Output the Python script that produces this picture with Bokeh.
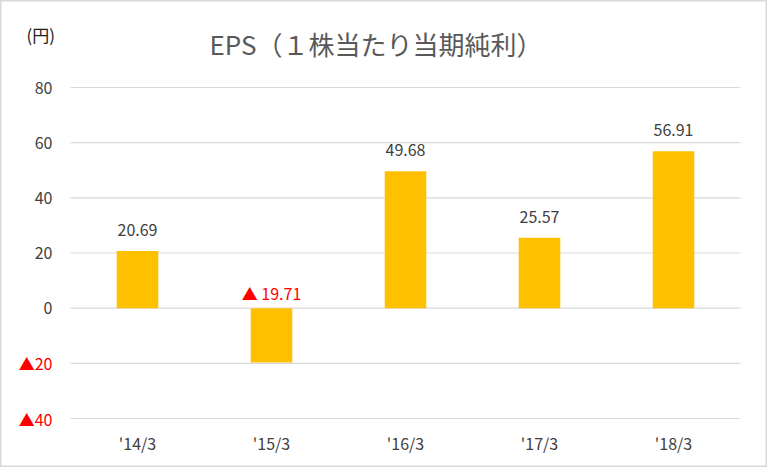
from bokeh.plotting import figure
from bokeh.models import Range1d
from bokeh.core.properties import value
from bokeh.embed import file_html
from bokeh.resources import INLINE

categories = ["'14/3", "'15/3", "'16/3", "'17/3", "'18/3"]
eps = [20.69, -19.71, 49.68, 25.57, 56.91]
y_ticks = [-40, -20, 0, 20, 40, 60, 80]
y_tick_labels = ["▲40", "▲20", "0", "20", "40", "60", "80"]
title_text = "EPS（１株当たり当期純利）"
unit_text = "(円)"

FONT = value("Noto Sans CJK JP")
GRAY = "#404040"
RED = "#FF0000"

n = len(categories)
xs = [i + 0.5 for i in range(n)]

W, H = 767, 467
L, R, T, B = 70, 740, 87, 418  # plot-area edges in pixels
PX_X = (R - L) / n
PX_Y = (B - T) / 120
x0 = -L / PX_X
x1 = n + (W - R) / PX_X
y1 = 80 + T / PX_Y
y0 = -40 - (H - B) / PX_Y

p = figure(width=W, height=H, output_backend="svg", toolbar_location=None,
           x_range=Range1d(x0, x1), y_range=Range1d(y0, y1),
           x_axis_location=None, y_axis_location=None,
           min_border=0, min_border_left=0, min_border_right=0,
           min_border_top=0, min_border_bottom=0)
p.outline_line_color = "#d9d9d9"
p.outline_line_width = 2
p.background_fill_color = "white"
p.border_fill_color = "white"
p.xgrid.visible = False
p.ygrid.visible = False

# gridlines
p.segment(x0=[0] * len(y_ticks), x1=[n] * len(y_ticks), y0=y_ticks, y1=y_ticks,
          line_color="#d9d9d9", line_width=1.2)

p.vbar(x=xs, top=eps, bottom=0, width=0.31, fill_color="#FFC000", line_color=None)

# y tick labels
p.text(x=[-18 / PX_X] * len(y_ticks), y=y_ticks, text=y_tick_labels,
       text_align="right", text_baseline="middle", text_font=FONT,
       text_font_size="16px",
       text_color=[RED if t < 0 else GRAY for t in y_ticks])

# x tick labels
p.text(x=xs, y=[-40 - 24 / PX_Y] * n, text=categories, text_align="center",
       text_baseline="middle", text_font=FONT, text_font_size="16px",
       text_color=GRAY)

# data labels
lab_y = [v + 21 / PX_Y if v >= 0 else 15 / PX_Y for v in eps]
lab_txt = [("▲ %.2f" % abs(v)) if v < 0 else ("%.2f" % v) for v in eps]
lab_col = [RED if v < 0 else GRAY for v in eps]
p.text(x=xs, y=lab_y, text=lab_txt, text_align="center", text_baseline="middle",
       text_font=FONT, text_font_size="16px", text_color=lab_col)

# title and unit
p.text(x=[(375.5 - L) / PX_X], y=[80 + (T - 43) / PX_Y], text=[title_text],
       text_align="center", text_baseline="middle", text_font=FONT,
       text_font_size="26px", text_color="#595959")
p.text(x=[(26 - L) / PX_X], y=[80 + (T - 34) / PX_Y], text=[unit_text],
       text_align="left", text_baseline="middle", text_font=FONT,
       text_font_size="17px", text_color="#202020")

open("out.html", "w").write(file_html(p, INLINE))
